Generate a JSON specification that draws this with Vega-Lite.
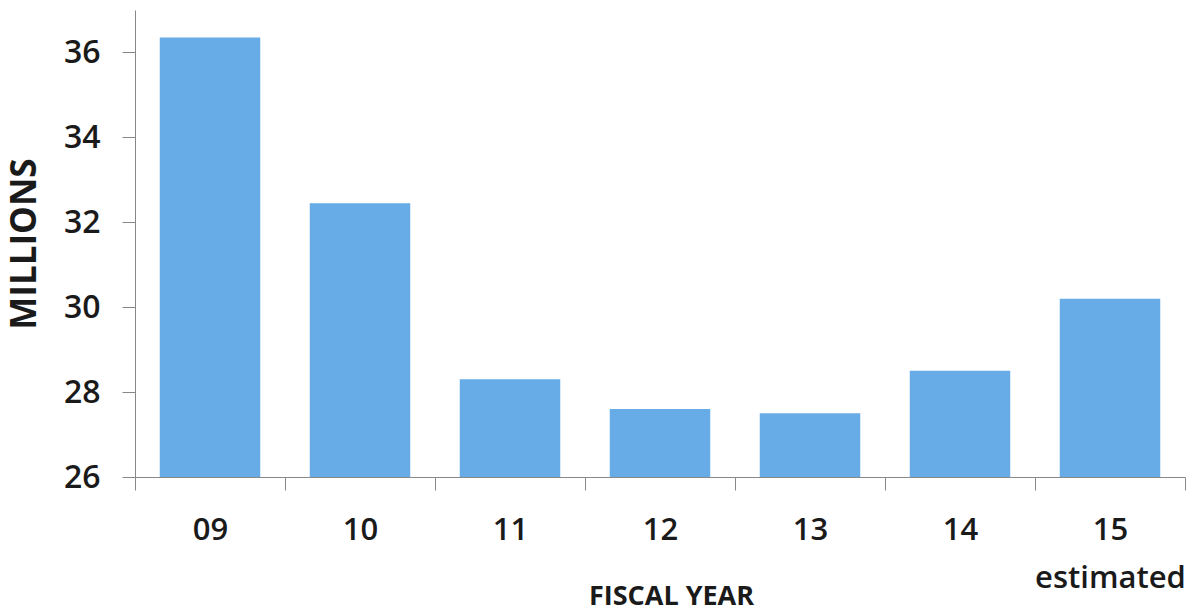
{
  "$schema": "https://vega.github.io/schema/vega-lite/v6.json",
  "autosize": {"type": "none"},
  "width": 1050,
  "height": 467,
  "padding": {"left": 135, "top": 10, "right": 8, "bottom": 139},
  "background": "white",
  "config": {
    "view": {"stroke": null},
    "font": "Open Sans"
  },
  "data": {
    "values": [
      {"year": "09", "millions": 36.35},
      {"year": "10", "millions": 32.45},
      {"year": "11", "millions": 28.3},
      {"year": "12", "millions": 27.6},
      {"year": "13", "millions": 27.5},
      {"year": "14", "millions": 28.5},
      {"year": "15", "millions": 30.2}
    ]
  },
  "mark": {"type": "bar", "color": "#67ace7", "width": {"band": 0.67}, "clip": true},
  "encoding": {
    "x": {
      "field": "year",
      "type": "ordinal",
      "scale": {"paddingInner": 0, "paddingOuter": 0},
      "axis": {
        "title": "FISCAL YEAR",
        "titleFont": "Open Sans",
        "titleFontSize": 27,
        "titleFontWeight": "bold",
        "titleColor": "#1a1a1a",
        "titleX": 536,
        "titleY": 119,
        "titleBaseline": "middle",
        "labelAngle": 0,
        "labelFontSize": 31,
        "labelFontWeight": 600,
        "labelColor": "#1a1a1a",
        "labelPadding": 25,
        "labelLineHeight": 48,
        "labelExpr": "datum.value == '15' ? ['15', 'estimated'] : datum.value",
        "tickBand": "extent",
        "tickSize": 13,
        "tickColor": "#888888",
        "domainColor": "#888888",
        "grid": false
      }
    },
    "y": {
      "field": "millions",
      "type": "quantitative",
      "scale": {"domain": [26, 37], "nice": false, "zero": false},
      "axis": {
        "title": "MILLIONS",
        "titleFont": "Open Sans",
        "titleFontSize": 35,
        "titleFontWeight": "bold",
        "titleColor": "#1a1a1a",
        "titleX": -111,
        "titleBaseline": "middle",
        "values": [26, 28, 30, 32, 34, 36],
        "labelFontSize": 32,
        "labelFontWeight": 600,
        "labelColor": "#1a1a1a",
        "labelPadding": 22,
        "tickSize": 13,
        "tickColor": "#888888",
        "domainColor": "#888888",
        "grid": false
      }
    }
  }
}
